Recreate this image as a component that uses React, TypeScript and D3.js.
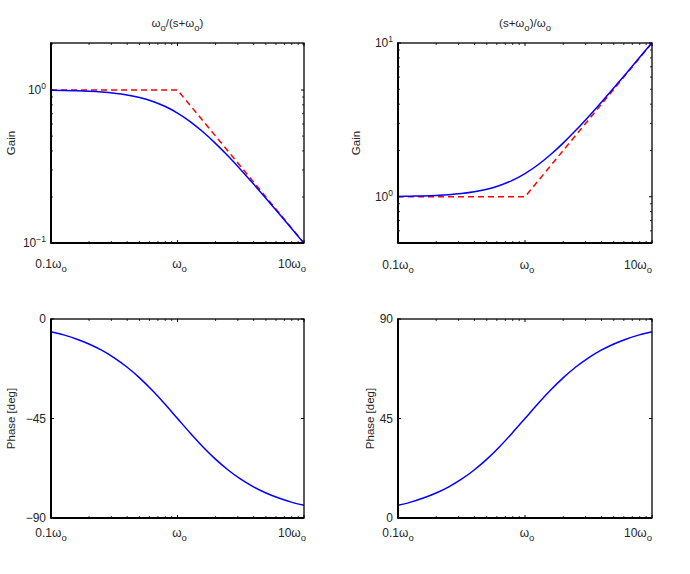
import React from "react";
import * as d3 from "d3";

// ---- data ----
const freq = [0.1, 0.1259, 0.1585, 0.1995, 0.2512, 0.3162, 0.3981, 0.5012, 0.631, 0.7943, 1, 1.259, 1.585, 1.995, 2.512, 3.162, 3.981, 5.012, 6.31, 7.943, 10];
const gainLow = [0.995, 0.9922, 0.9877, 0.9807, 0.9699, 0.9535, 0.9291, 0.894, 0.8457, 0.783, 0.7071, 0.622, 0.5336, 0.4481, 0.3699, 0.3015, 0.2436, 0.1957, 0.1565, 0.1249, 0.0995];
const gainHigh = [1.005, 1.0079, 1.0125, 1.0197, 1.031, 1.0488, 1.0763, 1.1186, 1.1824, 1.2771, 1.4142, 1.6078, 1.874, 2.2318, 2.7037, 3.3166, 4.1049, 5.1108, 6.3883, 8.0062, 10.0499];
const phaseLow = [-5.71, -7.18, -9.01, -11.28, -14.1, -17.55, -21.71, -26.62, -32.25, -38.46, -45, -51.54, -57.75, -63.38, -68.29, -72.45, -75.9, -78.72, -80.99, -82.82, -84.29];
const phaseHigh = [5.71, 7.18, 9.01, 11.28, 14.1, 17.55, 21.71, 26.62, 32.25, 38.46, 45, 51.54, 57.75, 63.38, 68.29, 72.45, 75.9, 78.72, 80.99, 82.82, 84.29];
const asymFreq = [0.1, 1, 10];
const asymLow = [1, 1, 0.1];
const asymHigh = [1, 1, 10];
const xTickVals = [0.1, 1, 10];
const xTickPrefix = ["0.1", "", "10"];
const titles = [["", "ω", "o", "/(s+", "ω", "o", ")"], ["(s+", "ω", "o", ")/", "ω", "o", ""]];

const FONT = "'Liberation Sans', Arial, sans-serif";
const TXT = "#262626";

type PanelProps = {
  L: number; R: number; T: number; B: number;
  yType: "log" | "lin";
  yDomain: [number, number];
  yTicks: number[];
  yTickLabels: [string, string][];
  curve: number[];
  asym?: number[];
  title?: string[];
  yLabel: string;
  yLabelX: number;
  xLabelY: number;
  lastDx: number;
  id: string;
};

function Panel(p: PanelProps) {
  const x = d3.scaleLog().domain([0.1, 10]).range([p.L, p.R]);
  const y: any = p.yType === "log"
    ? d3.scaleLog().domain(p.yDomain).range([p.B, p.T])
    : d3.scaleLinear().domain(p.yDomain).range([p.B, p.T]);
  const line = d3.line<[number, number]>().x(d => x(d[0])).y(d => y(d[1])).curve(d3.curveMonotoneX);
  const curvePts = freq.map((f, i) => [f, p.curve[i]] as [number, number]);
  const asymPts = p.asym ? asymFreq.map((f, i) => [f, p.asym![i]] as [number, number]) : null;
  const xMinor = x.ticks().filter(t => !xTickVals.some(v => Math.abs(v - t) < 1e-9));
  const yMinor = p.yType === "log" ? (y.ticks() as number[]).filter(t => !p.yTicks.some(v => Math.abs(v - t) < 1e-9)) : [];
  const cx = (p.L + p.R) / 2;
  const cy = (p.T + p.B) / 2;
  const dxs = [0, 2, p.lastDx];
  return (
    <g>
      <defs>
        <clipPath id={p.id}><rect x={p.L} y={p.T} width={p.R - p.L} height={p.B - p.T} /></clipPath>
      </defs>
      {xMinor.map((t, i) => (
        <g key={"xm" + i} stroke="#000" strokeWidth={0.8}>
          <line x1={x(t)} x2={x(t)} y1={p.B} y2={p.B - 2} />
          <line x1={x(t)} x2={x(t)} y1={p.T} y2={p.T + 2} />
        </g>
      ))}
      {xTickVals.map((t, i) => (
        <g key={"xM" + i} stroke="#000" strokeWidth={1}>
          <line x1={x(t)} x2={x(t)} y1={p.B} y2={p.B - 3} />
          <line x1={x(t)} x2={x(t)} y1={p.T} y2={p.T + 3} />
        </g>
      ))}
      {yMinor.map((t, i) => (
        <g key={"ym" + i} stroke="#000" strokeWidth={0.8}>
          <line x1={p.L} x2={p.L + 2} y1={y(t)} y2={y(t)} />
          <line x1={p.R} x2={p.R - 2} y1={y(t)} y2={y(t)} />
        </g>
      ))}
      {p.yTicks.map((t, i) => (
        <g key={"yM" + i} stroke="#000" strokeWidth={1}>
          <line x1={p.L} x2={p.L + 3} y1={y(t)} y2={y(t)} />
          <line x1={p.R} x2={p.R - 3} y1={y(t)} y2={y(t)} />
        </g>
      ))}
      <g clipPath={`url(#${p.id})`}>
        {asymPts && (
          <path d={line.curve(d3.curveLinear)(asymPts) || ""} fill="none" stroke="#ff0000" strokeWidth={1.5} strokeDasharray="6,4" />
        )}
        <path d={line.curve(d3.curveMonotoneX)(curvePts) || ""} fill="none" stroke="#0000ff" strokeWidth={1.5} />
      </g>
      <rect x={p.L} y={p.T} width={p.R - p.L} height={p.B - p.T} fill="none" stroke="#000" strokeWidth={1.3} />
      <line x1={p.L} x2={p.L} y1={p.T - 0.6} y2={p.B + 0.6} stroke="#000" strokeWidth={2} />
      <line x1={p.L} x2={p.R} y1={p.B} y2={p.B} stroke="#000" strokeWidth={2} />
      {xTickVals.map((t, i) => (
        <text key={"xl" + i} x={x(t) + dxs[i]} y={p.xLabelY} textAnchor="middle" fontFamily={FONT} fontSize={12} fill={TXT}>
          {xTickPrefix[i]}ω<tspan dy={4} fontSize={9.5}>o</tspan>
        </text>
      ))}
      {p.yTicks.map((t, i) => (
        <text key={"yl" + i} x={p.L - 5} y={y(t) + 4} textAnchor="end" fontFamily={FONT} fontSize={12} fill={TXT}>
          {p.yTickLabels[i][0]}
          {p.yTickLabels[i][1] && <tspan dy={-5} fontSize={8.5}>{p.yTickLabels[i][1]}</tspan>}
        </text>
      ))}
      {p.title && (
        <text x={cx} y={p.T - 16} textAnchor="middle" fontFamily={FONT} fontSize={11.5} fill={TXT}>
          {p.title[0]}{p.title[1]}
          <tspan dy={4} fontSize={9.5}>{p.title[2]}</tspan>
          <tspan dy={-4}>{p.title[3]}{p.title[4]}</tspan>
          <tspan dy={4} fontSize={9.5}>{p.title[5]}</tspan>
          <tspan dy={-4}>{p.title[6]}</tspan>
        </text>
      )}
      <text transform={`translate(${p.yLabelX},${cy}) rotate(-90)`} textAnchor="middle" fontFamily={FONT} fontSize={11.5} fill={TXT}>
        {p.yLabel}
      </text>
    </g>
  );
}

export default function App() {
  return (
    <svg width={690} height={574} style={{ position: "absolute", left: 0, top: 0, background: "#fff" }}>
      <rect width={690} height={574} fill="#fff" />
      <Panel id="c1" L={51} R={304} T={43} B={243} yType="log" yDomain={[0.1, 2.03]} yTicks={[0.1, 1]}
        yTickLabels={[["10", "−1"], ["10", "0"]]} curve={gainLow} asym={asymLow} title={titles[0]}
        yLabel="Gain" yLabelX={15} xLabelY={268} lastDx={-12} />
      <Panel id="c2" L={398} R={652} T={43} B={243} yType="log" yDomain={[0.5, 10]} yTicks={[1, 10]}
        yTickLabels={[["10", "0"], ["10", "1"]]} curve={gainHigh} asym={asymHigh} title={titles[1]}
        yLabel="Gain" yLabelX={360} xLabelY={269} lastDx={-14} />
      <Panel id="c3" L={51} R={304} T={319} B={518} yType="lin" yDomain={[-90, 0]} yTicks={[-90, -45, 0]}
        yTickLabels={[["−90", ""], ["−45", ""], ["0", ""]]} curve={phaseLow}
        yLabel="Phase [deg]" yLabelX={15} xLabelY={537} lastDx={-12} />
      <Panel id="c4" L={398} R={652} T={319} B={518} yType="lin" yDomain={[0, 90]} yTicks={[0, 45, 90]}
        yTickLabels={[["0", ""], ["45", ""], ["90", ""]]} curve={phaseHigh}
        yLabel="Phase [deg]" yLabelX={374} xLabelY={537} lastDx={-14} />
    </svg>
  );
}
